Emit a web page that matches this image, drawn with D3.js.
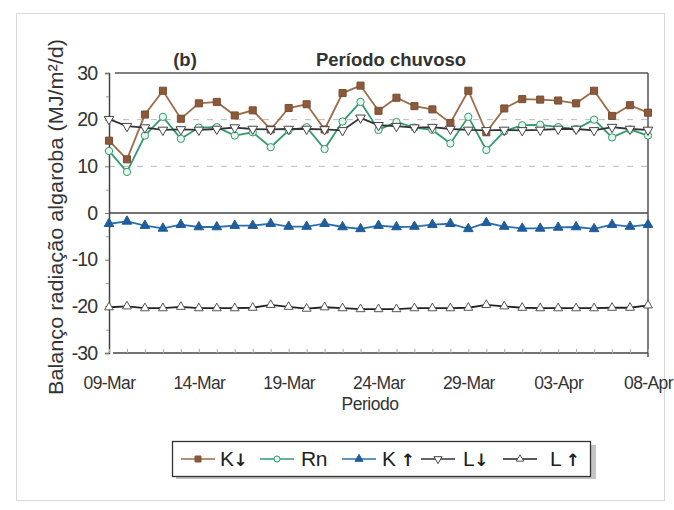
<!DOCTYPE html>
<html><head><meta charset="utf-8">
<script src="https://cdn.jsdelivr.net/npm/d3@7"></script>
<style>body{margin:0;background:#fff;} svg{display:block;font-family:Arial,"Liberation Sans",sans-serif;}</style>
</head><body><svg id="c" width="674" height="510"></svg>
<script>
const startDate = "2010-03-09";
const kDown = [15.5,11.5,21.1,26.2,20.2,23.5,23.8,20.9,22.0,17.9,22.5,23.3,17.9,25.7,27.3,21.9,24.7,22.9,22.2,19.3,26.2,17.3,22.4,24.4,24.3,24.1,23.5,26.2,20.8,23.1,21.5];
const rn = [13.3,8.8,16.6,20.6,15.9,18.3,18.4,16.6,17.3,14.1,17.7,18.4,13.7,19.6,23.8,17.8,19.5,18.3,17.8,14.9,20.6,13.5,17.5,18.8,18.9,18.4,18.0,20.0,16.2,17.9,16.6];
const kUp = [-2.3,-1.8,-2.7,-3.3,-2.5,-3.0,-3.0,-2.7,-2.7,-2.3,-2.9,-2.9,-2.3,-3.0,-3.4,-2.7,-3.0,-2.9,-2.5,-2.3,-3.4,-2.1,-2.9,-3.3,-3.3,-3.1,-3.0,-3.4,-2.5,-2.9,-2.5];
const lDown = [20.1,18.6,18.3,17.8,17.9,17.8,18.0,18.3,18.0,17.9,18.0,18.0,17.9,17.7,20.4,18.8,18.6,18.3,18.4,18.0,17.8,17.7,17.8,17.7,17.8,18.0,18.0,17.7,18.4,18.0,17.8];
const lUp = [-20.2,-20.0,-20.4,-20.4,-20.1,-20.4,-20.4,-20.4,-20.3,-19.7,-20.1,-20.5,-20.2,-20.4,-20.6,-20.6,-20.6,-20.4,-20.4,-20.4,-20.3,-19.7,-20.0,-20.3,-20.4,-20.4,-20.4,-20.4,-20.3,-20.3,-19.8];
const yTicks = [30,20,10,0,-10,-20,-30];
const yMinorTicks = [25,15,5,-5,-15,-25];
const gridValues = [10,20];
const seriesLetters = ["K","Rn","K ","L","L "];
const seriesArrows = ["\u2193","","\u2191","\u2193","\u2191"];
const titleLeft = "(b)";
const titleMain = "Período chuvoso";
const yLabel = "Balanço radiação algaroba (MJ/m²/d)";
const xLabel = "Periodo";

const parse = d3.timeParse("%Y-%m-%d");
const d0 = parse(startDate);
const dates = kDown.map((_, i) => d3.timeDay.offset(d0, i));

const svg = d3.select("#c");
const L = 109, R = 648, T = 73, B = 353;
const x = d3.scaleTime().domain([dates[0], dates[dates.length-1]]).range([L, R]);
const y = d3.scaleLinear().domain([-30, 30]).range([B, T]);
const FF = "Arial, 'Liberation Sans', sans-serif";

// outer frame
svg.append("rect").attr("x",16.5).attr("y",13.5).attr("width",648).attr("height",487)
  .attr("fill","none").attr("stroke","#d9d9d9").attr("stroke-width",1);

// gridlines
svg.append("g").selectAll("line").data(gridValues).join("line")
  .attr("x1",L).attr("x2",R).attr("y1",d=>y(d)).attr("y2",d=>y(d))
  .attr("stroke","#b8b8b8").attr("stroke-width",1).attr("stroke-dasharray","6,8");

// plot frame
svg.append("line").attr("x1",L+6).attr("x2",R).attr("y1",T).attr("y2",T).attr("stroke","#555").attr("stroke-width",1.5);
svg.append("line").attr("x1",R).attr("x2",R).attr("y1",T).attr("y2",B+4).attr("stroke","#555").attr("stroke-width",1.5);
svg.append("line").attr("x1",L+4).attr("x2",R).attr("y1",B).attr("y2",B).attr("stroke","#444").attr("stroke-width",1.5);
svg.append("line").attr("x1",L).attr("x2",R).attr("y1",y(0)).attr("y2",y(0)).attr("stroke","#444").attr("stroke-width",1.5);

// y axis
const yAxis = d3.axisLeft(y).tickValues(yTicks).tickSize(4).tickPadding(8).tickFormat(d=>String(d));
const gy = svg.append("g").attr("transform",`translate(${L},0)`).call(yAxis);
gy.select(".domain").attr("stroke","#444").attr("stroke-width",1.5);
gy.selectAll(".tick line").attr("stroke","#777");
gy.selectAll("text").attr("font-size","19.5px").attr("fill","#333").attr("letter-spacing","-1px").attr("font-family",FF);
const gym = svg.append("g").attr("transform",`translate(${L},0)`).call(d3.axisLeft(y).tickValues(yMinorTicks).tickSize(3).tickFormat(""));
gym.select(".domain").remove();
gym.selectAll(".tick line").attr("stroke","#999");

// x axis (bottom)
const xAxis = d3.axisBottom(x).tickValues(dates).tickSize(4).tickFormat((d,i)=> i%5===0 ? d3.timeFormat("%d-%b")(d) : "");
const gx = svg.append("g").attr("transform",`translate(0,${B})`).call(xAxis);
gx.select(".domain").remove();
gx.selectAll(".tick line").attr("stroke","#aaa").attr("y1",-4).attr("y2",0);
gx.selectAll("text").attr("font-size","17.5px").attr("fill","#333").attr("y",36).attr("dy",0)
  .attr("letter-spacing","-0.6px").attr("font-family",FF);

// titles
svg.append("text").attr("x",185).attr("y",66).attr("text-anchor","middle").attr("font-weight","bold").attr("font-size","18.5px").attr("fill","#333").text(titleLeft);
svg.append("text").attr("x",391).attr("y",66).attr("text-anchor","middle").attr("font-weight","bold").attr("font-size","18.5px").attr("fill","#333").text(titleMain);
svg.append("text").attr("x",370).attr("y",410).attr("text-anchor","middle").attr("font-size","17.5px").attr("fill","#333").attr("letter-spacing","-0.5px").text(xLabel);
svg.append("text").attr("transform","translate(63,217) rotate(-90)").attr("text-anchor","middle")
  .attr("font-size","20px").attr("fill","#333").attr("textLength",356).attr("lengthAdjust","spacingAndGlyphs").text(yLabel);

// series
const series = [
  {data:kDown, color:"#9c6b48", mfill:"#8a5a3a", mstroke:"#7a4e32", sym:d3.symbolSquare, size:50, rot:0},
  {data:rn, color:"#2f9c6c", mfill:"#e8f5ee", mstroke:"#2f9c6c", sym:d3.symbolCircle, size:42, rot:0},
  {data:kUp, color:"#2e6ea8", mfill:"#1f5d9c", mstroke:"#1f5d9c", sym:d3.symbolTriangle, size:40, rot:0},
  {data:lDown, color:"#333333", mfill:"#ffffff", mstroke:"#444", sym:d3.symbolTriangle, size:40, rot:180},
  {data:lUp, color:"#222222", mfill:"#ffffff", mstroke:"#555", sym:d3.symbolTriangle, size:34, rot:0}
];
const line = d3.line().x((d,i)=>x(dates[i])).y(d=>y(d));
series.forEach(s=>{
  const g = svg.append("g");
  g.append("path").datum(s.data).attr("d",line).attr("fill","none").attr("stroke",s.color).attr("stroke-width",1.8);
  g.selectAll("path.m").data(s.data).join("path").attr("class","m")
    .attr("d",d3.symbol().type(s.sym).size(s.size))
    .attr("transform",(d,i)=>`translate(${x(dates[i])},${y(d)}) rotate(${s.rot})`)
    .attr("fill",s.mfill).attr("stroke",s.mstroke).attr("stroke-width",1);
});

// legend
const lg = svg.append("g");
lg.append("rect").attr("x",176).attr("y",445).attr("width",420).attr("height",34).attr("fill","#c4c4c4");
lg.append("rect").attr("x",172.5).attr("y",441.5).attr("width",418).attr("height",35).attr("fill","#fff").attr("stroke","#333").attr("stroke-width",1.3);
const legPos = [{lx:181, tx:220},{lx:260, tx:301},{lx:342, tx:382},{lx:421, tx:463},{lx:503, tx:550}];
series.forEach((s,i)=>{
  const p = legPos[i], w = 34, cy = 459;
  lg.append("line").attr("x1",p.lx).attr("x2",p.lx+w).attr("y1",cy).attr("y2",cy).attr("stroke",s.color).attr("stroke-width",1.6);
  lg.append("path").attr("d",d3.symbol().type(s.sym).size(s.size*0.7)).attr("transform",`translate(${p.lx+w/2},${cy}) rotate(${s.rot})`)
    .attr("fill",s.mfill).attr("stroke",s.mstroke);
  const t = lg.append("text").attr("x",p.tx).attr("y",466).attr("font-size","21px").attr("fill","#222").attr("letter-spacing","-0.5px");
  t.append("tspan").text(seriesLetters[i]);
  if (seriesArrows[i]) t.append("tspan").attr("font-weight","bold").attr("font-family","'DejaVu Sans', sans-serif").attr("font-size","17px").text(seriesArrows[i]);
});
</script></body></html>
